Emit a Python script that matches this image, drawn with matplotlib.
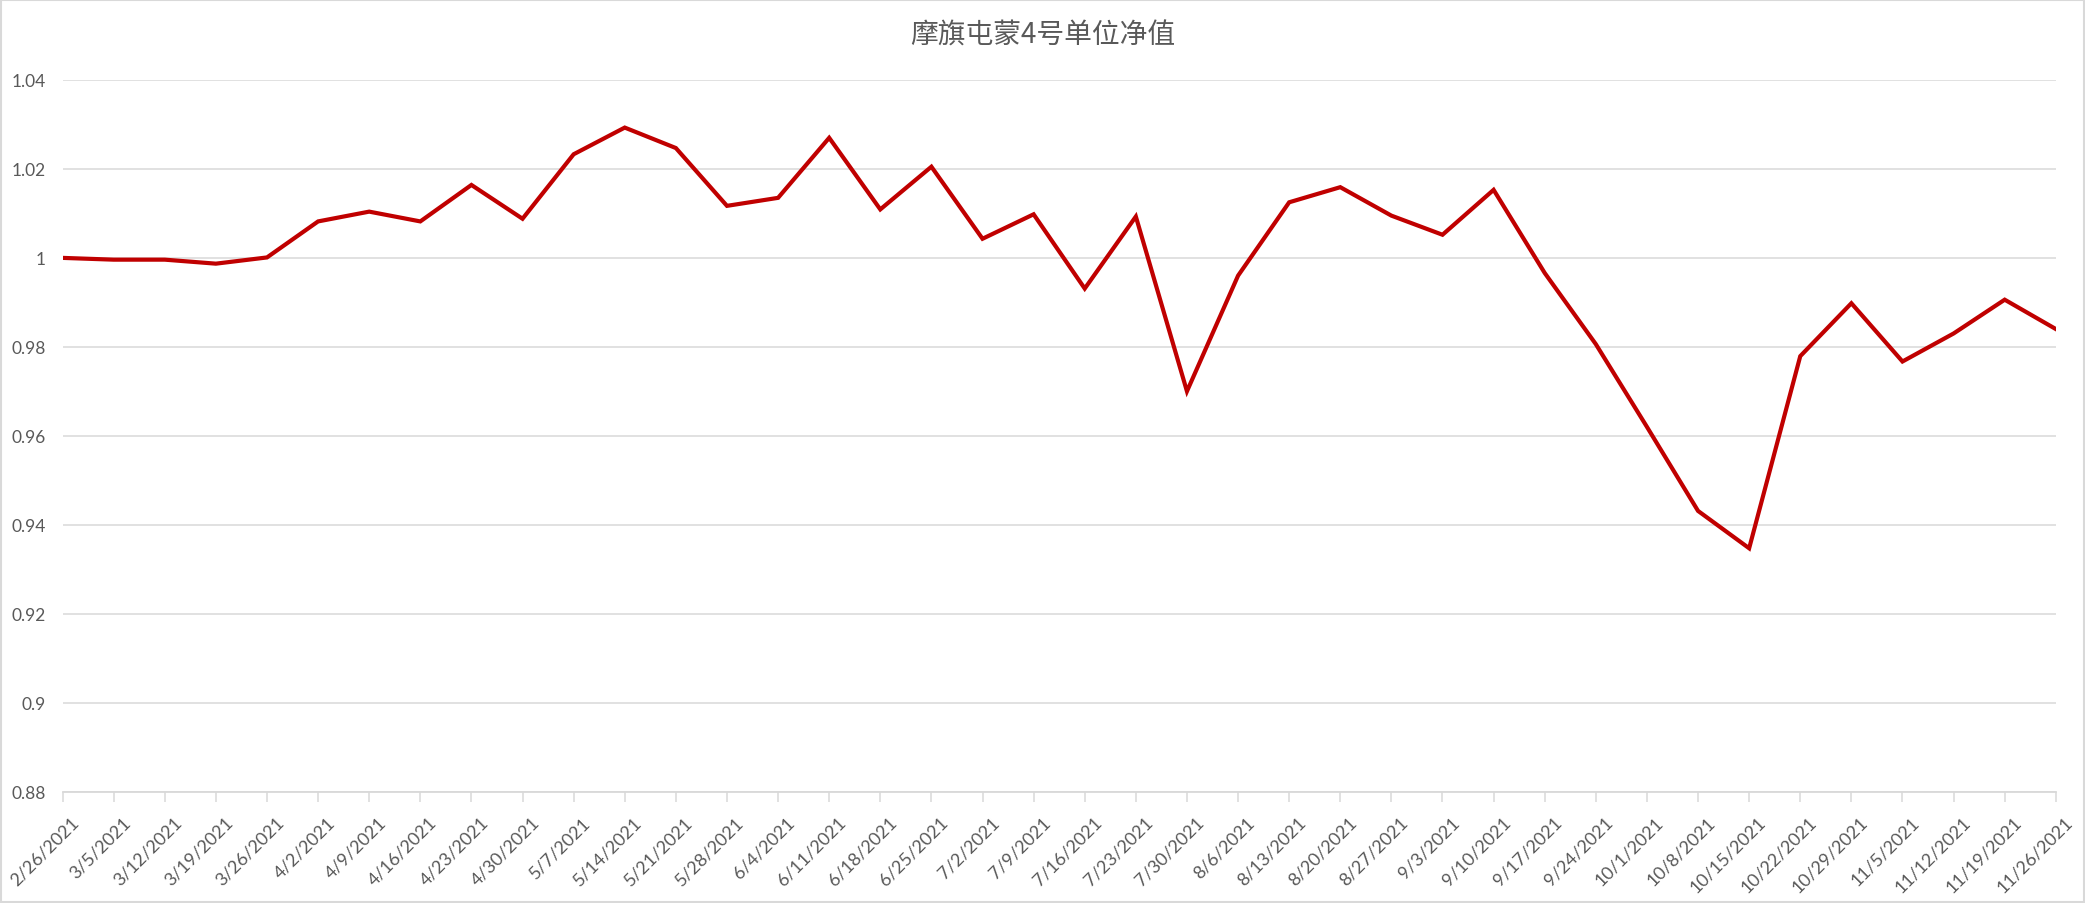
import matplotlib
matplotlib.use('Agg')
import matplotlib.pyplot as plt
from matplotlib.patches import Rectangle
from matplotlib.transforms import ScaledTranslation
import numpy as np


# weekly dates (x axis categories)
dates = ['2/26/2021', '3/5/2021', '3/12/2021', '3/19/2021', '3/26/2021',
	'4/2/2021', '4/9/2021', '4/16/2021', '4/23/2021', '4/30/2021',
	'5/7/2021', '5/14/2021', '5/21/2021', '5/28/2021', '6/4/2021',
	'6/11/2021', '6/18/2021', '6/25/2021', '7/2/2021', '7/9/2021',
	'7/16/2021', '7/23/2021', '7/30/2021', '8/6/2021', '8/13/2021',
	'8/20/2021', '8/27/2021', '9/3/2021', '9/10/2021', '9/17/2021',
	'9/24/2021', '10/1/2021', '10/8/2021', '10/15/2021', '10/22/2021',
	'10/29/2021', '11/5/2021', '11/12/2021', '11/19/2021', '11/26/2021']

# unit net value
nav = [1.0000, 0.9996, 0.9996, 0.9987, 1.0001,
	1.0082, 1.0104, 1.0082, 1.0164, 1.0088,
	1.0233, 1.0293, 1.0247, 1.0117, 1.0135,
	1.0270, 1.0109, 1.0205, 1.0043, 1.0098,
	0.9931, 1.0093, 0.9700, 0.9960, 1.0125,
	1.0159, 1.0095, 1.0052, 1.0153, 0.9966,
	0.9806, 0.9620, 0.9431, 0.9347, 0.9779,
	0.9898, 0.9767, 0.9830, 0.9906, 0.9840]

y_ticks = [0.88, 0.90, 0.92, 0.94, 0.96, 0.98, 1.00, 1.02, 1.04]
y_labels = ['0.88', '0.9', '0.92', '0.94', '0.96', '0.98', '1', '1.02', '1.04']

title = '摩旗屯蒙4号单位净值'

grid_col = '#D9D9D9'
text_col = '#595959'
line_col = '#C00000'


fig = plt.figure(figsize=(20.85, 9.04), dpi=100, facecolor='white')
ax = fig.add_axes([0.030, 0.1233, 0.956, 0.7871])

x = np.arange(len(dates))
ax.plot(x, nav, color=line_col, linewidth=3.0, solid_joinstyle='miter', zorder=3)

ax.set_xlim(0, len(dates)-1)
ax.set_ylim(y_ticks[0], y_ticks[-1])

ax.set_yticks(y_ticks)
ax.set_yticklabels(y_labels, fontsize=12.5, color=text_col, family=['Lato', 'DejaVu Sans'])
ax.tick_params(axis='y', length=0, pad=12)
ax.yaxis.grid(True, color=grid_col, linewidth=1.1)
ax.set_axisbelow(True)

ax.set_xticks(x)
ax.set_xticklabels(dates, rotation=45, ha='right', va='center', rotation_mode='anchor',
	fontsize=13, color=text_col, family=['Lato', 'DejaVu Sans'])
ax.tick_params(axis='x', direction='out', length=7, width=1.1, color=grid_col, pad=10)

# excel puts the end of each slanted label a bit right of its tick
shift = ScaledTranslation(0.14, -0.04, fig.dpi_scale_trans)
for lab in ax.get_xticklabels():
	lab.set_transform(lab.get_transform() + shift)

for side in ['left', 'right', 'top']:
	ax.spines[side].set_visible(False)
ax.spines['bottom'].set_color(grid_col)
ax.spines['bottom'].set_linewidth(1.3)

fig.text(0.5, 0.961, title, ha='center', va='center', fontsize=20, color=text_col,
	family=['Noto Sans CJK SC', 'DejaVu Sans'])

# chart area border
fig.patches.append(Rectangle((0.0005, 0.001), 0.999, 0.998, transform=fig.transFigure,
	fill=False, edgecolor=grid_col, linewidth=1.5))

fig.savefig('out.png', dpi=100, facecolor='white')
